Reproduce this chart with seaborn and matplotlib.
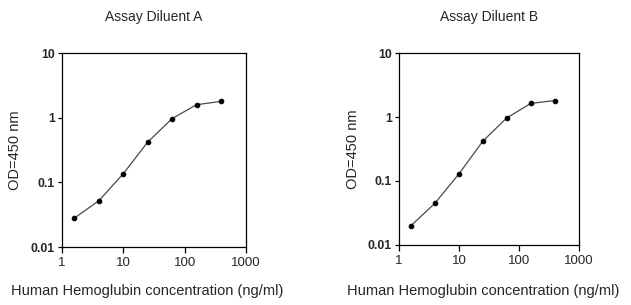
import numpy as np
import pandas as pd
import seaborn as sns
import matplotlib.pyplot as plt
from matplotlib.ticker import FixedLocator, NullLocator, FixedFormatter

conc = [1.6, 4.0, 10.0, 25.0, 62.5, 156.0, 390.0]
od_a = [0.028, 0.052, 0.136, 0.42, 0.97, 1.59, 1.79]
od_b = [0.020, 0.045, 0.129, 0.42, 0.97, 1.63, 1.81]
titles = ["Assay Diluent A", "Assay Diluent B"]
x_ticks = [1, 10, 100, 1000]
x_labels = ["1", "10", "100", "1000"]
y_ticks = [0.01, 0.1, 1, 10]
y_labels = ["0.01", "0.1", "1", "10"]

sns.set_style("white")
plt.rcParams["font.family"] = ["Liberation Sans", "DejaVu Sans"]

fig = plt.figure(figsize=(6.31, 3.05), dpi=100)
boxes = [[0.098, 0.190, 0.292, 0.636], [0.632, 0.197, 0.286, 0.629]]
ylab_x = [15 / 631, 353 / 631]
txt = "#262626"

for i, (od, title) in enumerate(zip([od_a, od_b], titles)):
    df = pd.DataFrame({"conc": conc, "od": od})
    ax = fig.add_axes(boxes[i])
    sns.lineplot(data=df, x="conc", y="od", ax=ax, color="#4a4a4a", linewidth=0.9,
                 marker="o", markersize=3.3, markerfacecolor="black",
                 markeredgecolor="black")
    ax.set_xscale("log")
    ax.set_yscale("log")
    ax.set_xlim(1, 1000)
    ax.set_ylim(0.01, 10)
    ax.xaxis.set_major_locator(FixedLocator(x_ticks))
    ax.xaxis.set_major_formatter(FixedFormatter(x_labels))
    ax.yaxis.set_major_locator(FixedLocator(y_ticks))
    ax.yaxis.set_major_formatter(FixedFormatter(y_labels))
    ax.xaxis.set_minor_locator(NullLocator())
    ax.yaxis.set_minor_locator(NullLocator())
    ax.tick_params(axis="x", direction="out", length=4, width=0.9, labelsize=9.5,
                   bottom=True, pad=3, color="black", labelcolor=txt)
    ax.tick_params(axis="y", direction="out", length=3, width=0.9, labelsize=8.8,
                   left=True, pad=2, color="black", labelcolor=txt)
    for lab in ax.get_yticklabels():
        lab.set_fontweight("bold")
    for s in ax.spines.values():
        s.set_color("black")
        s.set_linewidth(0.9)
    ax.set_xlabel("")
    ax.set_ylabel("")
    cx = boxes[i][0] + boxes[i][2] / 2
    fig.text(cx, 1 - 17 / 305, title, ha="center", va="center", fontsize=10,
             color=txt)
    fig.text(cx - 0.01, 1 - 291 / 305, "Human Hemoglubin concentration (ng/ml)",
             ha="center", va="center", fontsize=10.5, color=txt)
    fig.text(ylab_x[i], boxes[i][1] + boxes[i][3] / 2, "OD=450 nm", rotation=90,
             ha="center", va="center", fontsize=10.5, color=txt)

fig.savefig("out.png", dpi=100)
